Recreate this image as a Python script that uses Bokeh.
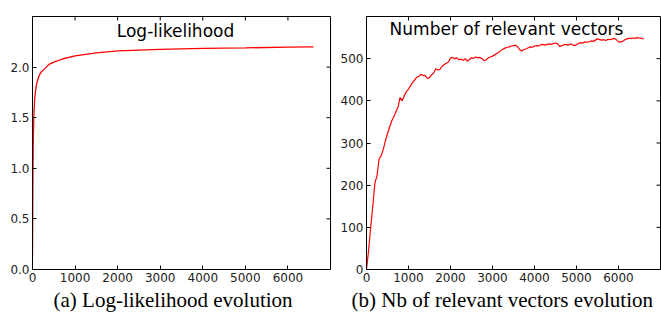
import math
from bokeh.plotting import figure
from bokeh.layouts import row
from bokeh.models import Range1d, FixedTicker, Label, Title
from bokeh.embed import file_html
from bokeh.resources import INLINE

# ---- data ----
ll_x = [0, 10, 20, 30, 50, 75, 100, 150, 200, 300, 400, 500, 700, 1000, 1500,
        2000, 3000, 4000, 5000, 6000, 6600]
ll_y = [0.13, 0.9, 1.3, 1.5, 1.68, 1.78, 1.84, 1.91, 1.95, 1.99, 2.03, 2.05,
        2.08, 2.11, 2.14, 2.16, 2.175, 2.185, 2.19, 2.197, 2.20]

rv_x = list(range(0, 6601, 50))
rv_y = [0, 45, 100, 150, 205, 222, 262, 270, 285, 305, 322, 338, 352, 362, 374,
        385, 408, 400, 412, 422, 428, 436, 444, 450, 456, 458, 463, 460, 460,
        453, 455, 462, 466, 476, 473, 475, 482, 486, 489, 492, 501, 503, 500,
        502, 497, 499, 496, 500, 494, 498, 502, 501, 504, 502, 503, 500, 495,
        497, 502, 504, 506, 509, 512, 515, 519, 523, 525, 527, 528, 530, 531,
        532, 528, 521, 518, 522, 523, 526, 528, 527, 530, 531, 530, 533, 534,
        532, 534, 535, 534, 536, 537, 535, 529, 531, 533, 534, 532, 535, 533,
        531, 533, 536, 538, 537, 540, 539, 540, 542, 541, 544, 547, 545, 544,
        545, 543, 546, 545, 547, 548, 545, 540, 540, 541, 545, 547, 548, 548,
        549, 548, 550, 549, 548, 547]

x_ticks = [0, 1000, 2000, 3000, 4000, 5000, 6000]
ll_ticks = [0.0, 0.5, 1.0, 1.5, 2.0]
ll_tick_labels = ["0.0", "0.5", "1.0", "1.5", "2.0"]
rv_ticks = [0, 100, 200, 300, 400, 500]

title_a = "Log-likelihood"
title_b = "Number of relevant vectors"
caption_a = "(a) Log-likelihood evolution"
caption_b = "(b) Nb of relevant vectors evolution"

TICK_COLOR = "#222222"
H = 314


def style_axis(ax, ticks):
    ax.ticker = FixedTicker(ticks=ticks)
    ax.major_tick_in = 4
    ax.major_tick_out = 0
    ax.minor_tick_in = 0
    ax.minor_tick_out = 0
    ax.axis_line_color = "black"
    ax.major_tick_line_color = "black"
    ax.major_label_text_font = "DejaVu Sans"
    ax.major_label_text_font_size = "12px"
    ax.major_label_text_color = TICK_COLOR
    ax.major_label_standoff = 3


def make_fig(width, xr, yr, yticks, bl, br, bt, bb):
    p = figure(width=width, height=H, output_backend="svg", toolbar_location=None,
               x_range=xr, y_range=yr,
               min_border_left=bl, min_border_right=br,
               min_border_top=bt, min_border_bottom=bb)
    p.xgrid.visible = False
    p.ygrid.visible = False
    p.outline_line_color = "black"
    p.outline_line_width = 1
    style_axis(p.xaxis[0], x_ticks)
    style_axis(p.yaxis[0], yticks)
    # inward ticks on top and right edges
    p.ray(x=x_ticks, y=[yr.end] * len(x_ticks), length=4, length_units="screen",
          angle=-math.pi / 2, line_color="black", line_width=1)
    p.ray(x=[xr.end] * len(yticks), y=yticks, length=4, length_units="screen",
          angle=math.pi, line_color="black", line_width=1)
    return p


def add_texts(p, width, bl, br, bt, bb, title, caption, title_top_px, shift_px,
              cap_offset, cap_size):
    xr, yr = p.x_range, p.y_range
    fw = width - bl - br
    fh = H - bt - bb
    xpp = (xr.end - xr.start) / fw
    ypp = (yr.end - yr.start) / fh
    p.add_layout(Label(x=xr.start + (fw / 2 + shift_px) * xpp,
                       y=yr.end - title_top_px * ypp,
                       text=title, text_align="center", text_baseline="top",
                       text_font="DejaVu Sans", text_font_size="17px",
                       text_color="black"))
    p.add_layout(Title(text=caption, text_font="Liberation Serif",
                       text_font_size=cap_size, text_font_style="normal",
                       align="left", offset=cap_offset, standoff=2,
                       text_color="black"), "below")


W1, BL1, BR1, BT1, BB1 = 331, 32, 1, 12, 45
p1 = make_fig(W1, Range1d(0, 7000), Range1d(0, 2.5), ll_ticks, BL1, BR1, BT1, BB1)
p1.yaxis[0].major_label_overrides = {t: s for t, s in zip(ll_ticks, ll_tick_labels)}
p1.line(ll_x, ll_y, line_color="red", line_width=1.3)
add_texts(p1, W1, BL1, BR1, BT1, BB1, title_a, caption_a, 4.5, -6, 21, "21px")

W2, BL2, BR2, BT2, BB2 = 330, 35, 1, 16, 45
p2 = make_fig(W2, Range1d(0, 7000), Range1d(0, 600), rv_ticks, BL2, BR2, BT2, BB2)
p2.line(rv_x, rv_y, line_color="red", line_width=1.2)
add_texts(p2, W2, BL2, BR2, BT2, BB2, title_b, caption_b, 2, -7, -15, "21px")

layout = row(p1, p2)
open("out.html", "w").write(file_html(layout, INLINE))
